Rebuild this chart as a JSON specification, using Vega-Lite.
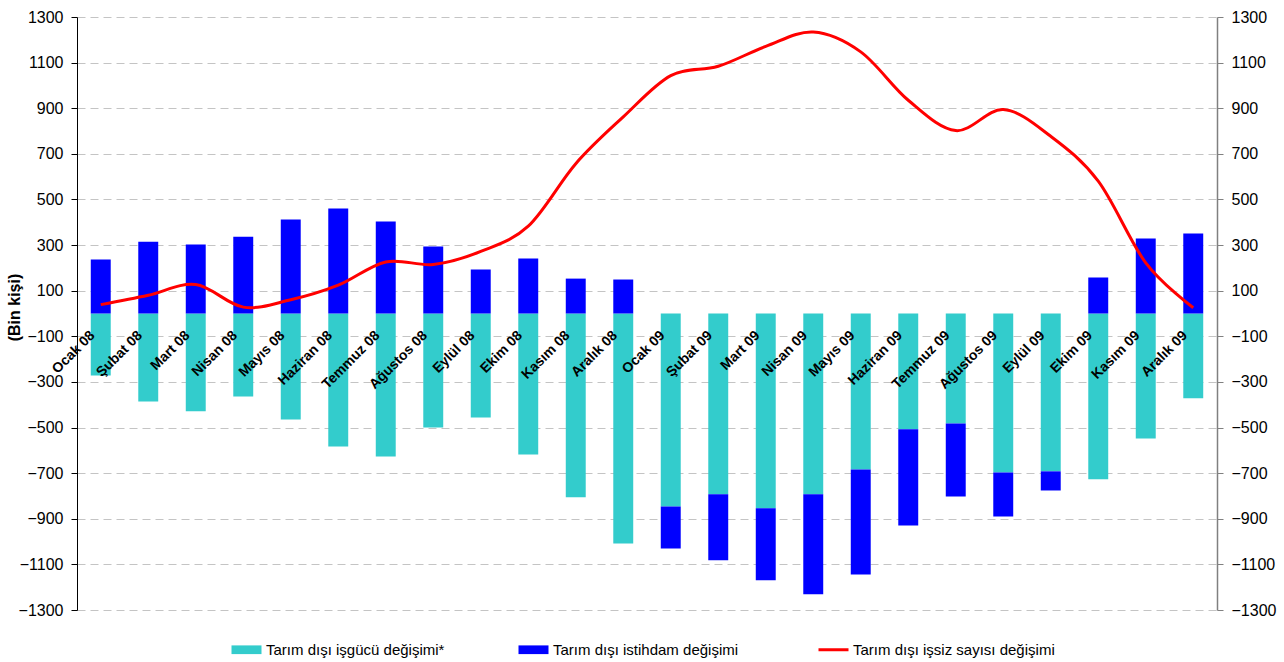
{
  "$schema": "https://vega.github.io/schema/vega-lite/v6.json",
  "width": 1140,
  "height": 593,
  "autosize": {"type": "none"},
  "padding": {"left": 77, "top": 17, "right": 67, "bottom": 52},
  "background": "white",
  "config": {"view": {"stroke": null}, "font": "Liberation Sans"},
  "data": {
    "values": [
      {"month": "Ocak 08", "series": "Tarım dışı işgücü değişimi*", "value": -272},
      {"month": "Şubat 08", "series": "Tarım dışı işgücü değişimi*", "value": -386},
      {"month": "Mart 08", "series": "Tarım dışı işgücü değişimi*", "value": -429},
      {"month": "Nisan 08", "series": "Tarım dışı işgücü değişimi*", "value": -364},
      {"month": "Mayıs 08", "series": "Tarım dışı işgücü değişimi*", "value": -465},
      {"month": "Haziran 08", "series": "Tarım dışı işgücü değişimi*", "value": -583},
      {"month": "Temmuz 08", "series": "Tarım dışı işgücü değişimi*", "value": -627},
      {"month": "Ağustos 08", "series": "Tarım dışı işgücü değişimi*", "value": -500},
      {"month": "Eylül 08", "series": "Tarım dışı işgücü değişimi*", "value": -456},
      {"month": "Ekim 08", "series": "Tarım dışı işgücü değişimi*", "value": -618},
      {"month": "Kasım 08", "series": "Tarım dışı işgücü değişimi*", "value": -806},
      {"month": "Aralık 08", "series": "Tarım dışı işgücü değişimi*", "value": -1008},
      {"month": "Ocak 09", "series": "Tarım dışı işgücü değişimi*", "value": -846},
      {"month": "Şubat 09", "series": "Tarım dışı işgücü değişimi*", "value": -793},
      {"month": "Mart 09", "series": "Tarım dışı işgücü değişimi*", "value": -854},
      {"month": "Nisan 09", "series": "Tarım dışı işgücü değişimi*", "value": -793},
      {"month": "Mayıs 09", "series": "Tarım dışı işgücü değişimi*", "value": -684},
      {"month": "Haziran 09", "series": "Tarım dışı işgücü değişimi*", "value": -508},
      {"month": "Temmuz 09", "series": "Tarım dışı işgücü değişimi*", "value": -482},
      {"month": "Ağustos 09", "series": "Tarım dışı işgücü değişimi*", "value": -697},
      {"month": "Eylül 09", "series": "Tarım dışı işgücü değişimi*", "value": -692},
      {"month": "Ekim 09", "series": "Tarım dışı işgücü değişimi*", "value": -727},
      {"month": "Kasım 09", "series": "Tarım dışı işgücü değişimi*", "value": -548},
      {"month": "Aralık 09", "series": "Tarım dışı işgücü değişimi*", "value": -372},
      {"month": "Ocak 08", "series": "Tarım dışı istihdam değişimi", "value": 237},
      {"month": "Şubat 08", "series": "Tarım dışı istihdam değişimi", "value": 315},
      {"month": "Mart 08", "series": "Tarım dışı istihdam değişimi", "value": 302},
      {"month": "Nisan 08", "series": "Tarım dışı istihdam değişimi", "value": 337},
      {"month": "Mayıs 08", "series": "Tarım dışı istihdam değişimi", "value": 412},
      {"month": "Haziran 08", "series": "Tarım dışı istihdam değişimi", "value": 460},
      {"month": "Temmuz 08", "series": "Tarım dışı istihdam değişimi", "value": 403},
      {"month": "Ağustos 08", "series": "Tarım dışı istihdam değişimi", "value": 294},
      {"month": "Eylül 08", "series": "Tarım dışı istihdam değişimi", "value": 193},
      {"month": "Ekim 08", "series": "Tarım dışı istihdam değişimi", "value": 241},
      {"month": "Kasım 08", "series": "Tarım dışı istihdam değişimi", "value": 153},
      {"month": "Aralık 08", "series": "Tarım dışı istihdam değişimi", "value": 149},
      {"month": "Ocak 09", "series": "Tarım dışı istihdam değişimi", "value": -184},
      {"month": "Şubat 09", "series": "Tarım dışı istihdam değişimi", "value": -289},
      {"month": "Mart 09", "series": "Tarım dışı istihdam değişimi", "value": -316},
      {"month": "Nisan 09", "series": "Tarım dışı istihdam değişimi", "value": -438},
      {"month": "Mayıs 09", "series": "Tarım dışı istihdam değişimi", "value": -460},
      {"month": "Haziran 09", "series": "Tarım dışı istihdam değişimi", "value": -421},
      {"month": "Temmuz 09", "series": "Tarım dışı istihdam değişimi", "value": -320},
      {"month": "Ağustos 09", "series": "Tarım dışı istihdam değişimi", "value": -193},
      {"month": "Eylül 09", "series": "Tarım dışı istihdam değişimi", "value": -84},
      {"month": "Ekim 09", "series": "Tarım dışı istihdam değişimi", "value": 158},
      {"month": "Kasım 09", "series": "Tarım dışı istihdam değişimi", "value": 329},
      {"month": "Aralık 09", "series": "Tarım dışı istihdam değişimi", "value": 351},
      {"month": "Ocak 08", "series": "Tarım dışı işsiz sayısı değişimi", "value": 39},
      {"month": "Şubat 08", "series": "Tarım dışı işsiz sayısı değişimi", "value": 80},
      {"month": "Mart 08", "series": "Tarım dışı işsiz sayısı değişimi", "value": 127},
      {"month": "Nisan 08", "series": "Tarım dışı işsiz sayısı değişimi", "value": 28},
      {"month": "Mayıs 08", "series": "Tarım dışı işsiz sayısı değişimi", "value": 60},
      {"month": "Haziran 08", "series": "Tarım dışı işsiz sayısı değişimi", "value": 124},
      {"month": "Temmuz 08", "series": "Tarım dışı işsiz sayısı değişimi", "value": 226},
      {"month": "Ağustos 08", "series": "Tarım dışı işsiz sayısı değişimi", "value": 215},
      {"month": "Eylül 08", "series": "Tarım dışı işsiz sayısı değişimi", "value": 272},
      {"month": "Ekim 08", "series": "Tarım dışı işsiz sayısı değişimi", "value": 383},
      {"month": "Kasım 08", "series": "Tarım dışı işsiz sayısı değişimi", "value": 657},
      {"month": "Aralık 08", "series": "Tarım dışı işsiz sayısı değişimi", "value": 862},
      {"month": "Ocak 09", "series": "Tarım dışı işsiz sayısı değişimi", "value": 1043},
      {"month": "Şubat 09", "series": "Tarım dışı işsiz sayısı değişimi", "value": 1084},
      {"month": "Mart 09", "series": "Tarım dışı işsiz sayısı değişimi", "value": 1171},
      {"month": "Nisan 09", "series": "Tarım dışı işsiz sayısı değişimi", "value": 1234},
      {"month": "Mayıs 09", "series": "Tarım dışı işsiz sayısı değişimi", "value": 1147},
      {"month": "Haziran 09", "series": "Tarım dışı işsiz sayısı değişimi", "value": 935},
      {"month": "Temmuz 09", "series": "Tarım dışı işsiz sayısı değişimi", "value": 802},
      {"month": "Ağustos 09", "series": "Tarım dışı işsiz sayısı değişimi", "value": 894},
      {"month": "Eylül 09", "series": "Tarım dışı işsiz sayısı değişimi", "value": 777},
      {"month": "Ekim 09", "series": "Tarım dışı işsiz sayısı değişimi", "value": 580},
      {"month": "Kasım 09", "series": "Tarım dışı işsiz sayısı değişimi", "value": 222},
      {"month": "Aralık 09", "series": "Tarım dışı işsiz sayısı değişimi", "value": 25}
    ]
  },
  "encoding": {
    "x": {
      "field": "month",
      "type": "nominal",
      "sort": null,
      "scale": {"paddingInner": 0.58, "paddingOuter": 0.29},
      "axis": {
        "title": null,
        "orient": "bottom",
        "offset": -296,
        "domain": false,
        "ticks": false,
        "labelAngle": -45,
        "labelAlign": "right",
        "labelBaseline": "middle",
        "labelFontSize": 14,
        "labelFontWeight": "bold",
        "labelColor": "black",
        "labelPadding": 19,
        "labelOffset": -8,
        "labelOverlap": false,
        "labelBound": false,
        "zindex": 2
      }
    }
  },
  "layer": [
    {
      "layer": [
        {
          "transform": [{"filter": "datum.series !== 'Tarım dışı işsiz sayısı değişimi'"}],
          "mark": {"type": "bar"},
          "encoding": {
            "y": {
              "field": "value",
              "type": "quantitative",
              "stack": "zero",
              "scale": {"domain": [-1300, 1300], "nice": false, "zero": false},
              "axis": {
                "orient": "left",
                "values": [-1300, -1100, -900, -700, -500, -300, -100, 100, 300, 500, 700, 900, 1100, 1300],
                "format": "d",
                "grid": true,
                "gridDash": [8, 5],
                "gridColor": "#c4c4c4",
                "gridWidth": 1,
                "domainColor": "black",
                "domainWidth": 1,
                "tickColor": "black",
                "tickSize": 6,
                "labelFontSize": 16,
                "labelColor": "black",
                "labelPadding": 8,
                "title": "(Bin kişi)",
                "titleFontSize": 16,
                "titleFontWeight": "bold",
                "titleColor": "black",
                "titleX": -63,
                "titleY": 290,
                "titleAngle": -90,
                "titleAlign": "center",
                "titleBaseline": "middle"
              }
            },
            "color": {
              "field": "series",
              "type": "nominal",
              "scale": {
                "domain": ["Tarım dışı işgücü değişimi*", "Tarım dışı istihdam değişimi", "Tarım dışı işsiz sayısı değişimi"],
                "range": ["#33CCCC", "#0000FF", "#FF0000"]
              },
              "legend": {
                "orient": "none",
                "legendX": 162,
                "legendY": 625,
                "direction": "horizontal",
                "title": null,
                "symbolSize": 900,
                "labelFontSize": 15,
                "labelColor": "black",
                "labelOffset": 12,
                "labelLimit": 400,
                "columnPadding": 73,
                "encode": {
                  "symbols": {
                    "update": {
                      "shape": {"signal": "datum.value === 'Tarım dışı işsiz sayısı değişimi' ? 'M-1,0L1,0' : 'M-1,-0.29L1,-0.29L1,0.29L-1,0.29Z'"},
                      "fill": {"signal": "datum.value === 'Tarım dışı işsiz sayısı değişimi' ? 'transparent' : scale('color', datum.value)"},
                      "stroke": {"signal": "scale('color', datum.value)"},
                      "strokeWidth": {"signal": "datum.value === 'Tarım dışı işsiz sayısı değişimi' ? 3 : 0"},
                      "opacity": {"value": 1}
                    }
                  }
                }
              }
            },
            "order": {"field": "series", "sort": "descending"}
          }
        },
        {
          "mark": {"type": "rule", "color": "black", "strokeWidth": 1.5},
          "encoding": {"y": {"datum": 0}}
        }
      ]
    },
    {
      "transform": [{"filter": "datum.series === 'Tarım dışı işsiz sayısı değişimi'"}],
      "mark": {"type": "line", "interpolate": "cardinal", "strokeWidth": 3},
      "encoding": {
        "y": {
          "field": "value",
          "type": "quantitative",
          "scale": {"domain": [-1300, 1300], "nice": false, "zero": false},
          "axis": {
            "orient": "right",
            "values": [-1300, -1100, -900, -700, -500, -300, -100, 100, 300, 500, 700, 900, 1100, 1300],
            "format": "d",
            "grid": false,
            "domainColor": "#808080",
            "domainWidth": 1.5,
            "tickColor": "#808080",
            "tickSize": 6,
            "labelFontSize": 16,
            "labelColor": "black",
            "labelPadding": 8,
            "title": null
          }
        },
        "color": {"field": "series", "type": "nominal"}
      }
    }
  ],
  "resolve": {"scale": {"y": "independent"}}
}
